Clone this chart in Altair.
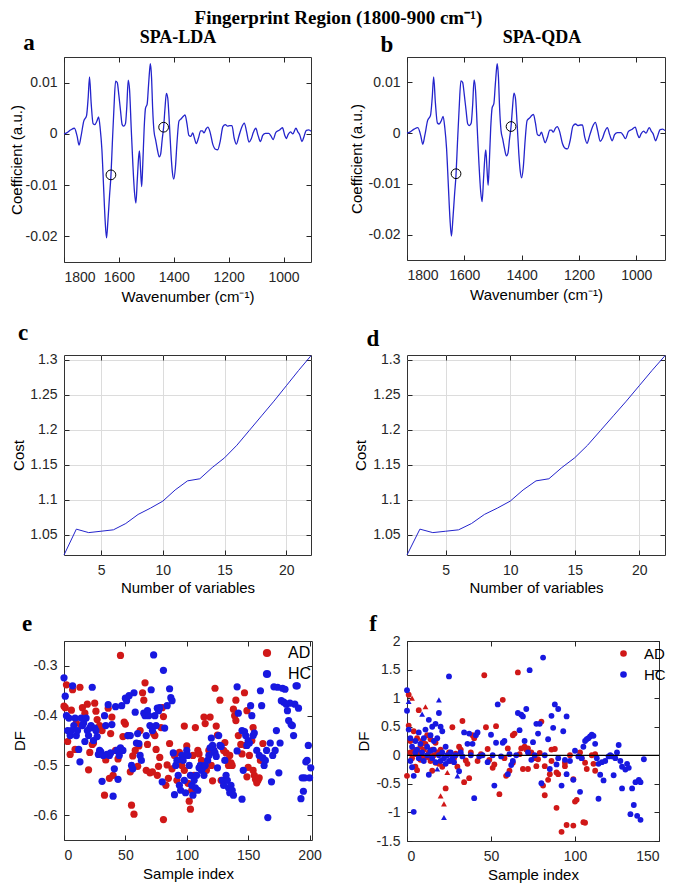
import altair as alt
import pandas as pd

SERIF = "Liberation Serif"
SANS = "Liberation Sans"
TXT = "#262626"
LINE_BLUE = "#2424cc"
RED = "#d01818"
BLUE = "#1818e0"

TITLE = "Fingerprint Region (1800-900 cm\u207b\u00b9)"

# ---- panels a / b : SPA coefficients ----
wavenumber = [1800, 1790, 1775, 1762, 1752, 1745, 1738, 1728, 1718, 1712, 1707, 1701, 1694, 1688, 1680,
              1674, 1668, 1662, 1656, 1650, 1645, 1640, 1634, 1629, 1624, 1618, 1612, 1606, 1600, 1594,
              1588, 1582, 1576, 1571, 1566, 1561, 1555, 1549, 1543, 1538, 1533, 1528, 1525, 1521, 1517,
              1513, 1508, 1503, 1497, 1492, 1487, 1485, 1481, 1477, 1472, 1466, 1460, 1453, 1448, 1442,
              1437, 1432, 1427, 1422, 1416, 1410, 1405, 1400, 1394, 1388, 1381, 1372, 1364, 1359, 1352,
              1345, 1338, 1331, 1325, 1318, 1310, 1302, 1296, 1290, 1282, 1276, 1268, 1258, 1248, 1240,
              1231, 1221, 1212, 1204, 1196, 1188, 1180, 1172, 1163, 1153, 1143, 1135, 1126, 1118, 1110,
              1101, 1093, 1084, 1076, 1066, 1054, 1046, 1038, 1028, 1016, 1004, 996, 990, 983, 975,
              966, 955, 948, 941, 933, 926, 917, 908, 900]
coefficient = [0.0000, 0.0002, 0.0008, 0.0011, -0.0005, -0.0022, -0.0005, 0.0025, 0.0035, 0.0070, 0.0111,
               0.0060, 0.0020, 0.0018, 0.0025, 0.0033, 0.0010, -0.0030, -0.0100, -0.0170, -0.0203,
               -0.0170, -0.0120, -0.0082, -0.0020, 0.0050, 0.0103, 0.0100, 0.0075, 0.0045, 0.0018,
               0.0015, 0.0020, 0.0055, 0.0105, 0.0085, 0.0010, -0.0060, -0.0115, -0.0135, -0.0090,
               -0.0045, -0.0033, -0.0070, -0.0103, -0.0060, 0.0010, 0.0050, 0.0058, 0.0095, 0.0130,
               0.0137, 0.0110, 0.0050, 0.0005, -0.0012, -0.0030, -0.0045, -0.0040, -0.0010, 0.0013,
               0.0050, 0.0079, 0.0070, 0.0020, -0.0040, -0.0075, -0.0088, -0.0065, -0.0015, 0.0025,
               0.0030, 0.0035, 0.0037, 0.0020, -0.0003, -0.0005, 0.0002, -0.0008, -0.0019, -0.0008,
               0.0006, 0.0006, 0.0002, 0.0010, 0.0013, 0.0004, -0.0020, -0.0030, -0.0031, -0.0015,
               0.0014, 0.0018, 0.0015, 0.0016, 0.0016, -0.0008, -0.0020, -0.0005, 0.0012, 0.0021,
               0.0005, -0.0016, -0.0010, 0.0003, 0.0011, -0.0003, -0.0015, -0.0003, 0.0001, 0.0001,
               -0.0004, -0.0011, 0.0003, 0.0007, 0.0012, -0.0002, -0.0009, -0.0001, 0.0004, 0.0000,
               0.0011, 0.0004, -0.0002, -0.0015, -0.0006, 0.0007, 0.0008, 0.0005]
selected_wn = [1629, 1437]
selected_coef = [-0.0080, 0.0013]

# ---- panels c / d : cost ----
n_variables = list(range(2, 23))
cost = [1.021, 1.058, 1.053, 1.055, 1.057, 1.066, 1.079, 1.088, 1.098, 1.114, 1.127,
        1.130, 1.146, 1.160, 1.178, 1.199, 1.220, 1.241, 1.263, 1.285, 1.306]

# ---- panel e : SPA-LDA discriminant function ----
e_ad_idx = [0, 2, 1, 3, 5, 6, 7, 9, 10, 13, 14, 15, 17, 19, 20, 21, 23, 24, 25, 26, 27, 29, 31, 33, 34, 36,
            37, 38, 39, 40, 42, 44, 46, 48, 49, 50, 52, 54, 55, 56, 57, 58, 60, 61, 62, 64, 65, 66, 67, 68,
            70, 72, 73, 74, 75, 76, 77, 78, 79, 80, 81, 81, 83, 84, 85, 86, 88, 90, 92, 94, 96, 98, 98, 100,
            101, 102, 103, 104, 105, 106, 107, 109, 110, 112, 114, 115, 116, 118, 119, 120, 121, 122, 123,
            124, 125, 127, 128, 130, 131, 132, 133, 134, 135, 136, 137, 138, 139, 140, 140, 142, 144, 145,
            147, 148, 149, 149, 150, 151, 153, 154, 154, 155, 156, 157, 158, 159, 160, 162]
e_ad_df = [-0.381, -0.338, -0.384, -0.452, -0.478, -0.389, -0.348, -0.468, -0.415, -0.343, -0.420, -0.384,
           -0.395, -0.377, -0.509, -0.474, -0.458, -0.455, -0.375, -0.391, -0.408, -0.420, -0.430, -0.560,
           -0.489, -0.385, -0.526, -0.436, -0.403, -0.520, -0.470, -0.487, -0.279, -0.442, -0.413, -0.417,
           -0.440, -0.513, -0.580, -0.481, -0.598, -0.470, -0.502, -0.461, -0.430, -0.354, -0.369, -0.334,
           -0.510, -0.458, -0.515, -0.513, -0.436, -0.440, -0.468, -0.520, -0.502, -0.484, -0.424, -0.384,
           -0.402, -0.609, -0.540, -0.499, -0.526, -0.456, -0.507, -0.480, -0.530, -0.474, -0.500, -0.421,
           -0.510, -0.461, -0.536, -0.572, -0.588, -0.550, -0.480, -0.520, -0.424, -0.470, -0.477, -0.490,
           -0.403, -0.416, -0.510, -0.470, -0.403, -0.500, -0.531, -0.470, -0.345, -0.421, -0.439, -0.369,
           -0.530, -0.470, -0.454, -0.475, -0.490, -0.500, -0.480, -0.495, -0.500, -0.387, -0.400, -0.369,
           -0.410, -0.440, -0.458, -0.477, -0.354, -0.460, -0.390, -0.523, -0.504, -0.480, -0.450, -0.424,
           -0.510, -0.520, -0.528, -0.535, -0.530, -0.525, -0.490, -0.456]
e_hc_idx = [0, 1, 2, 3, 4, 5, 6, 7, 8, 9, 10, 11, 12, 13, 14, 15, 16, 17, 18, 19, 20, 21, 22, 23, 24, 25,
            26, 27, 28, 29, 30, 31, 32, 33, 34, 35, 36, 37, 38, 39, 40, 41, 42, 43, 44, 45, 46, 47, 48, 50,
            51, 52, 53, 54, 55, 56, 57, 58, 59, 60, 61, 62, 63, 65, 66, 67, 68, 69, 70, 71, 72, 73, 74, 75,
            76, 77, 78, 80, 81, 82, 84, 86, 87, 88, 89, 90, 91, 92, 93, 94, 95, 96, 97, 98, 99, 100, 101,
            102, 103, 104, 105, 106, 107, 108, 109, 110, 111, 112, 113, 114, 115, 117, 118, 119, 120, 121,
            122, 123, 124, 125, 126, 127, 128, 129, 130, 131, 132, 133, 134, 135, 136, 137, 138, 141, 141,
            142, 145, 145, 146, 147, 148, 149, 150, 151, 152, 153, 154, 155, 157, 159, 160, 161, 162, 163,
            164, 165, 166, 168, 169, 170, 171, 172, 173, 174, 175, 176, 177, 178, 179, 180, 181, 182, 183,
            184, 185, 186, 187, 188, 189, 190, 191, 193, 194, 195, 196, 197, 198, 199, 200, 201]
e_hc_df = [-0.324, -0.361, -0.400, -0.430, -0.405, -0.440, -0.430, -0.340, -0.420, -0.405, -0.440, -0.430,
           -0.468, -0.493, -0.405, -0.420, -0.415, -0.452, -0.405, -0.430, -0.440, -0.425, -0.420, -0.343,
           -0.450, -0.425, -0.430, -0.442, -0.478, -0.470, -0.473, -0.532, -0.480, -0.400, -0.420, -0.478,
           -0.378, -0.480, -0.475, -0.418, -0.562, -0.507, -0.382, -0.470, -0.528, -0.480, -0.465, -0.380,
           -0.470, -0.365, -0.370, -0.440, -0.360, -0.440, -0.500, -0.507, -0.354, -0.393, -0.455, -0.436,
           -0.456, -0.480, -0.490, -0.395, -0.400, -0.440, -0.390, -0.400, -0.420, -0.348, -0.430, -0.278,
           -0.400, -0.420, -0.385, -0.390, -0.384, -0.533, -0.309, -0.425, -0.380, -0.346, -0.364, -0.370,
           -0.475, -0.559, -0.500, -0.490, -0.520, -0.540, -0.550, -0.480, -0.490, -0.530, -0.555, -0.470,
           -0.480, -0.500, -0.520, -0.540, -0.560, -0.530, -0.545, -0.520, -0.550, -0.505, -0.500, -0.510,
           -0.505, -0.520, -0.500, -0.490, -0.480, -0.465, -0.445, -0.460, -0.470, -0.475, -0.482, -0.505,
           -0.440, -0.460, -0.462, -0.530, -0.540, -0.490, -0.520, -0.530, -0.545, -0.555, -0.540, -0.550,
           -0.560, -0.471, -0.342, -0.395, -0.430, -0.568, -0.510, -0.432, -0.440, -0.460, -0.450, -0.455,
           -0.380, -0.400, -0.440, -0.435, -0.470, -0.480, -0.350, -0.380, -0.485, -0.500, -0.490, -0.470,
           -0.605, -0.455, -0.533, -0.480, -0.342, -0.470, -0.430, -0.343, -0.515, -0.455, -0.370, -0.345,
           -0.373, -0.347, -0.377, -0.390, -0.410, -0.375, -0.418, -0.420, -0.440, -0.377, -0.340, -0.340,
           -0.385, -0.567, -0.525, -0.552, -0.525, -0.493, -0.490, -0.460, -0.525, -0.505]

# ---- panel f : SPA-QDA discriminant function (marker: c = circle, t = triangle) ----
f_ad_idx = [0, 1, 1, 2, 2, 3, 3, 4, 4, 5, 5, 6, 6, 7, 7, 8, 8, 9, 9, 10, 10, 11, 11, 12, 12, 13, 14, 14,
            15, 15, 16, 17, 17, 18, 19, 20, 20, 21, 22, 23, 24, 25, 26, 27, 28, 29, 30, 31, 32, 33, 34, 35,
            36, 37, 38, 39, 40, 42, 44, 46, 47, 48, 49, 51, 52, 53, 55, 57, 58, 59, 60, 61, 63, 63, 64, 66,
            67, 68, 69, 70, 71, 72, 72, 74, 76, 77, 78, 79, 80, 81, 82, 82, 84, 85, 86, 86, 88, 89, 89, 90,
            92, 94, 94, 95, 97, 99, 99, 100, 101, 103, 104, 105, 106, 106, 107, 110, 111, 112, 112]
f_ad_df = [-0.36, 1.06, 0.52, 0.05, 0.25, 1.00, -0.05, 0.10, 0.42, 0.02, -0.20, -0.26, 0.30, 0.79, 0.05,
           -0.08, 0.15, 0.25, -0.02, 0.10, -0.05, 0.85, 0.20, -0.03, 0.35, 0.05, -0.10, 0.28, -0.27, 0.10,
           0.00, -0.13, 0.22, 0.05, -0.15, -0.71, 0.10, -0.20, -0.85, -0.58, -0.30, 0.05, -0.10, 0.49, -0.05,
           0.03, -0.20, 0.15, 0.10, 0.60, -0.47, -0.09, -0.15, -0.40, 0.05, 0.35, 0.30, -0.10, 0.02, 1.40,
           0.49, 0.11, -0.08, -0.22, -0.16, 0.51, -0.68, 0.97, -0.05, -0.36, 0.12, -0.27, -0.13, 0.35, 0.38,
           1.45, 0.02, 0.12, -0.24, 0.15, 0.10, -0.24, 0.12, 0.05, -0.05, -0.19, -0.07, 0.04, 0.59, -0.53,
           -0.70, -0.19, -0.43, -0.33, -0.10, 0.10, 0.11, -0.92, -0.30, -0.33, -1.34, -0.19, -0.13, -1.22,
           0.00, -1.23, -0.42, -0.81, -0.78, 0.05, -0.05, -1.17, -1.18, -0.13, -0.24, 0.00, -0.15, -0.27, 0.02]
f_ad_marker = ["c", "c", "c", "c", "c", "t", "c", "c", "c", "c", "c", "c", "c", "c", "c", "c", "c", "c",
               "c", "c", "c", "t", "c", "c", "c", "c", "c", "c", "c", "c", "c", "c", "c", "c", "c", "t",
               "c", "c", "t", "c", "t"] + ["c"] * 78
f_hc_idx = [0, 0, 1, 1, 2, 2, 3, 3, 4, 4, 5, 5, 6, 7, 7, 8, 9, 9, 10, 10, 11, 12, 12, 13, 13, 14, 14, 15,
            15, 16, 16, 17, 17, 18, 18, 19, 19, 19, 20, 20, 21, 21, 22, 22, 23, 23, 24, 25, 25, 26, 27, 28,
            29, 30, 31, 32, 33, 34, 36, 37, 38, 39, 40, 41, 42, 43, 45, 48, 50, 51, 52, 53, 54, 56, 57, 58,
            60, 61, 62, 63, 65, 66, 67, 68, 69, 70, 71, 72, 73, 74, 75, 76, 77, 78, 79, 80, 81, 82, 84, 85,
            86, 87, 88, 89, 90, 90, 92, 93, 94, 95, 95, 97, 99, 100, 102, 103, 104, 105, 106, 107, 108, 109,
            110, 111, 112, 113, 114, 114, 115, 116, 117, 118, 120, 121, 122, 123, 124, 125, 126, 127, 128,
            128, 130, 131, 132, 133, 134, 135, 136, 137, 138, 139, 139, 141]
f_hc_df = [1.14, 0.78, 0.94, 0.45, 0.30, -0.10, -0.21, 0.15, -0.36, -0.99, 0.05, 0.25, 0.10, 0.40, -0.05,
           0.20, 0.72, 0.05, 0.30, -0.10, 0.45, 0.15, 0.00, 0.62, -0.34, 0.35, 0.08, 0.50, -0.05, 0.25, 0.10,
           0.55, -0.12, -0.24, 0.30, 0.97, 0.74, 0.00, 0.50, -0.10, 0.42, 0.05, -1.09, -0.05, 0.15, -0.15,
           0.00, 1.38, -0.10, 0.05, -0.05, -0.12, 0.00, -0.36, -0.28, 0.05, -0.02, 0.40, 0.20, 0.38, 0.00,
           0.20, -0.75, 0.35, 0.40, -0.02, 0.00, -0.12, 0.36, 0.00, -0.53, 0.22, 0.89, -0.02, 0.22, 0.25,
           -0.33, 0.02, -0.17, -0.10, 0.00, 0.74, 0.44, 0.71, 0.68, 0.25, 0.81, 0.05, 1.49, -0.08, 0.23, 0.00,
           0.55, 0.38, 0.55, -0.49, 1.71, 0.00, 0.28, -0.24, 0.69, 0.48, 0.89, -0.16, 0.81, -0.05, -0.53,
           0.42, -0.08, 0.68, -0.33, -0.10, -0.43, 0.08, -0.02, -0.64, -0.05, 0.15, 0.25, 0.28, 0.30, 0.33,
           0.36, 0.34, 0.20, -0.05, -0.15, -0.76, -0.34, -0.12, -0.44, -0.10, -0.02, 0.00, -0.02, -0.35,
           -0.05, 0.05, 0.18, -0.10, -0.20, -0.58, -0.25, -0.15, -0.22, -1.03, -0.58, -0.87, -0.47, -1.06,
           -0.43, -1.13, -0.47, -0.07]
f_hc_marker = ["c", "c", "t", "c", "c", "c", "c", "c", "c", "c", "c", "c", "c", "c", "c", "c", "t", "c",
               "c", "c", "c", "c", "c", "c", "c", "c", "c", "c", "c", "c", "c", "c", "c", "t", "c", "t",
               "c", "c", "c", "c", "c", "c", "t", "c", "c", "c", "c", "c", "c", "c", "c", "c", "c", "t"] + ["c"] * 103

groups = ["AD", "HC"]

# ---------------- data frames ----------------
spec_df = pd.DataFrame({"wn": wavenumber, "coef": coefficient})
sel_df = pd.DataFrame({"wn": selected_wn, "coef": selected_coef})
cost_df = pd.DataFrame({"n": n_variables, "cost": cost})
e_df = pd.DataFrame({"idx": e_ad_idx + e_hc_idx,
                     "df": e_ad_df + e_hc_df,
                     "group": ["AD"] * len(e_ad_idx) + ["HC"] * len(e_hc_idx)})
f_df = pd.DataFrame({"idx": f_ad_idx + f_hc_idx,
                     "df": f_ad_df + f_hc_df,
                     "marker": (f_ad_marker + f_hc_marker)[:len(f_ad_idx) + len(f_hc_idx)],
                     "group": ["AD"] * len(f_ad_idx) + ["HC"] * len(f_hc_idx)})
one = pd.DataFrame({"k": [0]})

LABEL_EXPR = "'' + datum.value"


def main_x(values, title, title_y, grid=False):
    return alt.Axis(orient="bottom", values=values, title=title, offset=-5, tickSize=5,
                    labelPadding=8, titleY=title_y, labelExpr=LABEL_EXPR, grid=grid)


def main_y(values, title, title_x, grid=False):
    return alt.Axis(orient="left", values=values, title=title, offset=-5, tickSize=5,
                    labelPadding=7, titleX=title_x, labelExpr=LABEL_EXPR, grid=grid)


def tick_axis(orient, values):
    return alt.Axis(orient=orient, values=values, labels=False, title=None, offset=-5,
                    tickSize=5, minExtent=0, maxExtent=0, grid=False)


def tick_layer(data, xf, yf, xs, ys, xv, yv):
    return alt.Chart(data).mark_point(opacity=0).encode(
        x=alt.X(xf, type="quantitative", scale=xs, axis=tick_axis("top", xv)),
        y=alt.Y(yf, type="quantitative", scale=ys, axis=tick_axis("right", yv)),
    )


def letter_layer(letter, lx, ly):
    return alt.Chart(one).mark_text(font=SERIF, fontWeight="bold", fontSize=23, align="center",
                                    baseline="alphabetic", color="black").encode(
        x=alt.value(lx), y=alt.value(ly), text=alt.value(letter))


def sub_layer(text, sx, sy):
    return alt.Chart(one).mark_text(font=SERIF, fontWeight="bold", fontSize=18, align="center",
                                    baseline="alphabetic", color="black").encode(
        x=alt.value(sx), y=alt.value(sy), text=alt.value(text))


def spectrum_panel(letter, lx, ly, sub, sx, sy, w, h, ytx):
    xs = alt.Scale(domain=[900, 1800], reverse=True, nice=False, zero=False)
    ys = alt.Scale(domain=[-0.025, 0.015], nice=False, zero=False)
    xv = [1800, 1600, 1400, 1200, 1000]
    yv = [-0.02, -0.01, 0, 0.01]
    line = alt.Chart(spec_df).mark_line(color=LINE_BLUE, strokeWidth=1.3, interpolate="monotone").encode(
        x=alt.X("wn:Q", scale=xs, axis=main_x(xv, "Wavenumber (cm\u207b\u00b9)", 32)),
        y=alt.Y("coef:Q", scale=ys, axis=main_y(yv, "Coefficient (a.u.)", ytx)),
    )
    circ = alt.Chart(sel_df).mark_point(shape="circle", filled=False, color="black", size=95,
                                        strokeWidth=1, opacity=1).encode(
        x=alt.X("wn:Q", scale=xs, axis=None), y=alt.Y("coef:Q", scale=ys, axis=None))
    return alt.layer(line, circ, tick_layer(spec_df, "wn", "coef", xs, ys, xv, yv),
                     letter_layer(letter, lx, ly), sub_layer(sub, sx, sy)
                     ).resolve_axis(x="independent", y="independent").properties(width=w, height=h)


def cost_panel(letter, lx, ly, w, h, ytx):
    xs = alt.Scale(domain=[2, 22], nice=False, zero=False)
    ys = alt.Scale(domain=[1.021, 1.307], nice=False, zero=False)
    xv = [5, 10, 15, 20]
    yv = [1.05, 1.1, 1.15, 1.2, 1.25, 1.3]
    line = alt.Chart(cost_df).mark_line(color=LINE_BLUE, strokeWidth=1).encode(
        x=alt.X("n:Q", scale=xs, axis=main_x(xv, "Number of variables", 30, grid=True)),
        y=alt.Y("cost:Q", scale=ys, axis=main_y(yv, "Cost", ytx, grid=True)),
    )
    return alt.layer(line, tick_layer(cost_df, "n", "cost", xs, ys, xv, yv),
                     letter_layer(letter, lx, ly)
                     ).resolve_axis(x="independent", y="independent").properties(width=w, height=h)


def df_panel(letter, lx, ly, w, h, ytx, data, xdom, xv, ydom, yv, size, legx, legy, shaped, lfs):
    xs = alt.Scale(domain=xdom, nice=False, zero=False)
    ys = alt.Scale(domain=ydom, nice=False, zero=False)
    color = alt.Color("group:N", scale=alt.Scale(domain=groups, range=[RED, BLUE]),
                      legend=alt.Legend(orient="none", legendX=legx, legendY=legy, title=None,
                                        symbolType="circle", symbolSize=size * 1.3,
                                        labelFont=SANS, labelFontSize=lfs, labelColor="black",
                                        rowPadding=5, labelOffset=13, padding=0,
                                        symbolStrokeWidth=0, symbolOpacity=1))
    enc = dict(
        x=alt.X("idx:Q", scale=xs, axis=main_x(xv, "Sample index", 31)),
        y=alt.Y("df:Q", scale=ys, axis=main_y(yv, "DF", ytx)),
        color=color,
    )
    if shaped:
        enc["shape"] = alt.Shape("marker:N", scale=alt.Scale(domain=["c", "t"],
                                 range=["circle", "triangle-up"]), legend=None)
    pts = alt.Chart(data).mark_point(filled=True, size=size, opacity=1, strokeWidth=0).encode(**enc)
    layers = [pts]
    if shaped:
        zero = alt.Chart(one).mark_rule(color="black", strokeWidth=1.3).encode(
            y=alt.Y("k:Q", scale=ys, axis=None))
        layers.append(zero)
    layers += [tick_layer(data, "idx", "df", xs, ys, xv, yv), letter_layer(letter, lx, ly)]
    return alt.layer(*layers).resolve_axis(x="independent", y="independent").properties(width=w, height=h)


pa = spectrum_panel("a", -35, -7, "SPA-LDA", 114, -14, 247, 205, -45)
pb = spectrum_panel("b", -20, -5, "SPA-QDA", 135, -14, 258, 203, -48)
pc = cost_panel("c", -41, -15, 247, 200, -43)
pd_ = cost_panel("d", -34, -9, 258, 200, -44)
pe = df_panel("e", -37, -10, 248, 199, -42, e_df, [0, 202], [0, 50, 100, 150, 200],
              [-0.65, -0.25], [-0.6, -0.5, -0.4, -0.3], 52, 195, 4, False, 16)
pf = df_panel("f", -34, -10, 252, 200, -41, f_df, [0, 150], [0, 50, 100, 150],
              [-1.5, 2], [-1.5, -1, -0.5, 0, 0.5, 1, 1.5, 2], 34, 209, 5, True, 15)

chart = alt.concat(pa, pb, pc, pd_, pe, pf, columns=2, spacing={"row": 16, "column": 26}).resolve_scale(
    color="independent", shape="independent"
).resolve_legend(color="independent", shape="independent").properties(
    title=alt.TitleParams(TITLE, font=SERIF, fontSize=19, fontWeight="bold", anchor="middle",
                          color="black", offset=1),
    padding=0,
).configure(background="white").configure_view(stroke="#333333", strokeWidth=1).configure_axis(
    labelFont=SANS, labelFontSize=14, labelColor=TXT, titleFont=SANS, titleFontSize=15,
    titleFontWeight="normal", titleColor="black", domain=False, tickColor=TXT,
    gridColor="#dcdcdc", gridWidth=1
)

chart.save("out.html", embed_options={"renderer": "svg", "actions": False})
